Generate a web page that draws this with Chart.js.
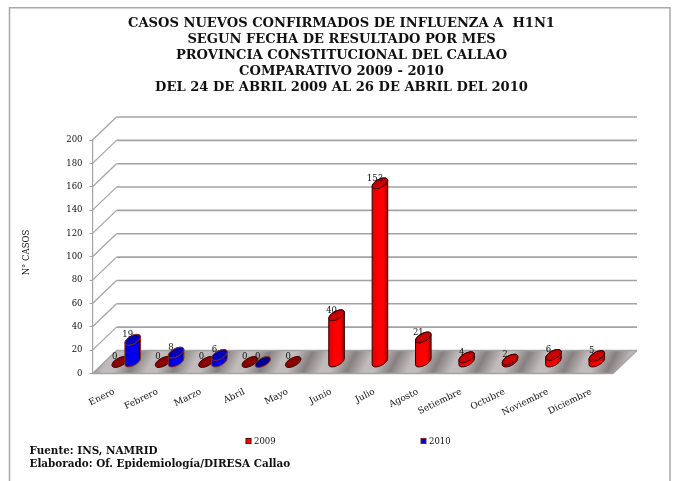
<!DOCTYPE html>
<html><head><meta charset="utf-8">
<style>html,body{margin:0;padding:0;background:#fff}#w{width:677px;height:481px}</style>
<script src="https://cdn.jsdelivr.net/npm/chart.js@4"></script></head>
<body><div id="w"><canvas id="c" width="677" height="481"></canvas></div>
<script>
const categories=["Enero","Febrero","Marzo","Abril","Mayo","Junio","Julio","Agosto","Setiembre","Octubre","Noviembre","Diciembre"];
const casos2009=[0,0,0,0,0,40,153,21,4,2,6,5];
const casos2010=[19,8,6,0,null,null,null,null,null,null,null,null];
const seriesNames=["2009","2010"];
const titleLines=["CASOS NUEVOS CONFIRMADOS DE INFLUENZA A  H1N1","SEGUN FECHA DE RESULTADO POR MES","PROVINCIA CONSTITUCIONAL DEL CALLAO","COMPARATIVO 2009 - 2010","DEL 24 DE ABRIL 2009 AL 26 DE ABRIL DEL 2010"];
const sourceLines=["Fuente: INS, NAMRID","Elaborado: Of. Epidemiología/DIRESA Callao"];
const axisTitle='N° CASOS';
const FONT='"DejaVu Serif"';
const DX=24,DY=23,GRID='#a3a3a3';
const looks=[
 {box:'#ff0000',boxLine:'#5a0000',mid:'#ff0000',edgeL:'#e00000',edgeR:'#900000',top:'#c80000',line:'#300000',flat:'#8b0000'},
 {box:'#0000e0',boxLine:'#7a2a10',mid:'#0000f0',edgeL:'#0000c8',edgeR:'#000088',top:'#0000b8',line:'#8a3010',flat:'#000090'}
];
function cyl(ctx,cx,base,top,a,b,th,k){
 const t0=Math.atan(-(b/a)*Math.tan(th));
 const flat=Math.abs(base-top)<0.5;
 if(!flat){
  const g=ctx.createLinearGradient(cx-a,0,cx+a,0);
  g.addColorStop(0,k.edgeL);g.addColorStop(.45,k.mid);g.addColorStop(.7,k.mid);g.addColorStop(1,k.edgeR);
  ctx.beginPath();
  ctx.ellipse(cx,base,a,b,th,t0,t0+Math.PI);
  ctx.ellipse(cx,top,a,b,th,t0+Math.PI,t0+2*Math.PI);
  ctx.closePath();ctx.fillStyle=g;ctx.fill();
  ctx.lineWidth=1;ctx.strokeStyle=k.line;ctx.stroke();
 }
 ctx.beginPath();ctx.ellipse(cx,top,a,b,th,0,2*Math.PI);
 ctx.fillStyle=flat?k.flat:k.top;ctx.fill();
 ctx.lineWidth=1;ctx.strokeStyle=k.line;ctx.stroke();
}
const scene={id:'scene',
 afterLayout(ch){ch.titleBlock.left+=35;ch.titleBlock.right+=35;},
 beforeDraw(ch){
  const c=ch.ctx;
  c.save();c.strokeStyle='#a8a8a8';c.lineWidth=1.5;
  c.beginPath();c.moveTo(9.5,481);c.lineTo(9.5,7.7);c.lineTo(670,7.7);c.lineTo(670,481);c.stroke();
  c.restore();
 },
 beforeDatasetsDraw(ch){
  const c=ch.ctx,{x:xs,y:ys}=ch.scales,L=xs.left,R=xs.right,B=ys.getPixelForValue(0);
  c.save();
  c.beginPath();c.moveTo(L,B);c.lineTo(R,B);c.lineTo(R+DX,B-DY);c.lineTo(L+DX,B-DY);c.closePath();
  c.save();c.clip();
  const per=(R-L)/12, k=per*0.8, x0=L-39, y0=B-DY;
  const n=16,g=c.createLinearGradient(x0,y0,x0+k*n,y0+k*n/2);
  for(let i=0;i<n;i++){g.addColorStop(i/n,'#878080');g.addColorStop((i+.38)/n,'#c2bbbb');g.addColorStop((i+.62)/n,'#c2bbbb');}
  g.addColorStop(1,'#878080');
  c.fillStyle=g;c.fillRect(L-2,B-DY-2,R-L+DX+4,DY+4);
  c.restore();
  c.strokeStyle=GRID;
  ys.ticks.forEach(t=>{
   const y=ys.getPixelForValue(t.value);
   c.lineWidth=1.2;c.beginPath();c.moveTo(L,y);c.lineTo(L+DX,y-DY);c.stroke();
   c.lineWidth=1.6;c.beginPath();c.moveTo(L+DX,y-DY);c.lineTo(R+DX,y-DY);c.stroke();
  });
  c.lineWidth=1.2;c.beginPath();c.moveTo(R,B);c.lineTo(R+DX,B-DY);c.stroke();
  c.lineWidth=1.6;c.beginPath();c.moveTo(L,B);c.lineTo(R,B);c.stroke();
  c.restore();
 },
 afterDatasetsDraw(ch){
  const c=ch.ctx;
  categories.forEach((_,j)=>{
   ch.data.datasets.forEach((ds,i)=>{
    const v=ds.data[j]; if(v===null)return;
    const e=ch.getDatasetMeta(i).data[j];
    cyl(c,e.x+DX/2,e.base-DY/2,e.y-DY/2,8.6,4.1,-0.5,looks[i]);
   });
  });
  c.save();c.fillStyle='#111';c.font='8.5px '+FONT;c.textAlign='center';c.textBaseline='middle';
  ch.data.datasets.forEach((ds,i)=>{
   ds.data.forEach((v,j)=>{ if(v===null)return;
    const e=ch.getDatasetMeta(i).data[j];
    c.fillText(String(v),e.x+DX/2-5,e.y-DY/2-5);
   });
  });
  c.font='bold 10.4px '+FONT;c.textAlign='left';
  sourceLines.forEach((s,i)=>c.fillText(s,29.5,451+i*13.5));
  c.font='8.5px '+FONT;
  const lx=[246,421];
  seriesNames.forEach((s,i)=>{
   c.fillStyle=looks[i].box;c.strokeStyle=looks[i].boxLine;c.lineWidth=1;
   c.fillRect(lx[i],438.5,5,5);c.strokeRect(lx[i],438.5,5,5);
   c.fillStyle='#111';c.fillText(s,lx[i]+8,441.5);
  });
  c.translate(27,252.5);c.rotate(-Math.PI/2);c.textAlign='center';c.font='8.5px '+FONT;
  c.fillText(axisTitle,0,0);
  c.restore();
 }
};
new Chart(document.getElementById('c'),{
 type:'bar',
 data:{labels:categories,datasets:[
  {label:seriesNames[0],data:casos2009,backgroundColor:'rgba(0,0,0,0)',borderWidth:0},
  {label:seriesNames[1],data:casos2010,backgroundColor:'rgba(0,0,0,0)',borderWidth:0}]},
 options:{responsive:false,animation:false,
  layout:{padding:{left:0,right:64,top:0,bottom:47.5}},
  datasets:{bar:{categoryPercentage:0.6,barPercentage:1}},
  plugins:{
   tooltip:{enabled:false},legend:{display:false},
   title:{display:true,text:titleLines,color:'#111',font:{family:FONT,size:13.1,weight:'bold',lineHeight:1.237},padding:{top:15,bottom:44},align:'center',fullSize:true}
  },
  scales:{
   x:{grid:{display:false},border:{display:false},
      afterFit(s){s.height=60;},
      ticks:{minRotation:26,maxRotation:26,color:'#111',padding:5,autoSkip:false,font:{family:FONT,size:9}}},
   y:{min:0,max:200,
      afterFit(s){s.width=92.5;},
      grid:{drawOnChartArea:false,drawTicks:true,tickLength:3,color:GRID},
      border:{display:true,color:GRID,width:1.2},
      ticks:{stepSize:20,color:'#111',padding:7,font:{family:FONT,size:8.5}}}
  }
 },
 plugins:[scene]
});
</script></body></html>
